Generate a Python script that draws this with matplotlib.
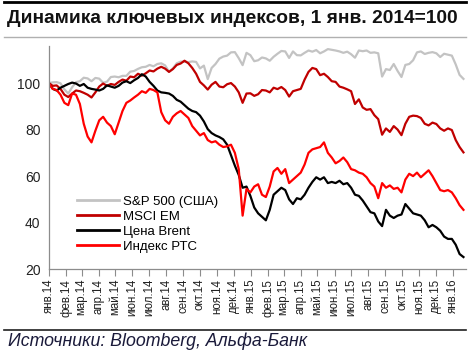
"""
Динамика ключевых индексов (S&P 500, MSCI EM, Brent, РТС), 1 янв. 2014 = 100.

Weekly closes, normalised to the first trading day of 2014.
"""

import matplotlib

matplotlib.use("Agg")
import matplotlib.pyplot as plt
import numpy as np
import pandas as pd
from matplotlib.lines import Line2D

plt.rcParams["font.family"] = ["Liberation Sans", "DejaVu Sans"]

TITLE = "Динамика ключевых индексов, 1 янв. 2014=100"
SOURCE = "Источники: Bloomberg, Альфа-Банк"

MONTHS = ["янв", "фев", "мар", "апр", "май", "июн",
          "июл", "авг", "сен", "окт", "ноя", "дек"]
TICK_LABELS = [f"{m}.14" for m in MONTHS] + [f"{m}.15" for m in MONTHS] + ["янв.16"]

SERIES_NAMES = ["S&P 500 (США)", "MSCI EM", "Цена Brent", "Индекс РТС"]
SERIES_COLORS = ["#c3c3c3", "#c00000", "#000000", "#ff0000"]

sp500 = [
    100.0, 100.3, 100.4, 99.9, 97.3, 95.5, 98.2, 100.4, 100.8, 102.3,
    102.0, 100.8, 102.2, 101.9, 100.1, 100.6, 102.6, 102.8, 102.5, 103.1,
    103.1, 104.9, 105.2, 106.1, 106.8, 107.0, 107.8, 107.2, 108.2, 108.5,
    107.6, 104.9, 106.3, 108.5, 109.2, 109.2, 109.0, 109.3, 109.1, 106.3,
    107.5, 101.7, 106.5, 108.2, 110.5, 111.4, 111.8, 113.2, 113.3, 110.7,
    107.7, 113.0, 112.0, 109.4, 109.8, 111.0, 110.6, 109.6, 111.3, 112.6,
    113.8, 113.6, 110.8, 113.6, 112.0, 111.9, 113.0, 114.0, 113.5, 114.2,
    112.8, 113.6, 114.6, 114.3, 114.0, 113.6, 113.0, 113.5, 112.4, 110.9,
    114.0, 113.7, 114.0, 113.0, 113.2, 112.8, 102.8, 106.0, 105.6, 108.2,
    105.2, 102.6, 107.8, 108.2, 109.8, 113.2, 113.6, 112.5, 113.0, 113.3,
    112.8, 111.2, 112.6, 112.2, 111.8, 108.0, 103.5, 101.8,
]

msci_em = [
    100.0, 98.8, 99.0, 97.5, 95.0, 94.0, 95.5, 96.8, 96.5, 95.8,
    95.0, 93.8, 96.0, 98.5, 99.8, 98.8, 99.6, 99.2, 100.5, 101.5,
    101.0, 102.8, 102.5, 104.0, 103.2, 104.2, 105.4, 105.0, 106.2, 107.0,
    106.2, 104.8, 106.0, 107.8, 108.4, 109.6, 108.5, 106.5, 104.0, 100.5,
    99.0, 97.2, 99.3, 100.5, 98.5, 98.2, 99.5, 100.0, 98.5, 96.0,
    91.5, 95.5, 95.6, 94.5, 95.2, 97.0, 96.8, 96.0, 98.0, 97.4,
    98.3, 97.0, 94.2, 96.5, 97.0, 97.5, 101.5, 104.8, 106.5, 106.0,
    103.4, 104.0, 102.6, 100.8, 100.5, 98.5, 98.0, 97.3, 96.5, 91.0,
    93.0, 89.5, 88.5, 88.8, 86.2, 84.5, 77.8, 80.5, 79.0, 81.5,
    80.0, 77.6, 82.5, 85.5, 86.0, 85.8, 85.0, 82.5, 81.8, 83.0,
    82.4, 80.5, 79.5, 80.5, 79.8, 75.5, 72.5, 70.2,
]

brent = [
    100.0, 97.5, 96.8, 98.0, 98.8, 99.6, 100.2, 99.8, 98.8, 99.6,
    98.0, 97.5, 97.2, 96.8, 97.5, 99.0, 98.5, 98.0, 98.8, 100.2,
    100.8, 100.0, 101.2, 102.2, 103.8, 102.8, 100.5, 98.8, 96.8, 96.0,
    95.8, 95.5, 94.5, 92.8, 92.0, 90.5, 89.0, 88.0, 87.5, 86.0,
    83.5, 80.2, 78.5, 77.5, 76.8, 75.8, 73.5, 69.0, 64.5, 60.5,
    55.0, 55.5, 51.5, 46.5, 44.0, 42.5, 41.0, 45.5, 52.0, 53.5,
    55.0, 54.0, 50.0, 48.0, 50.5, 50.0, 52.0, 55.0, 57.5, 59.5,
    58.5, 59.5, 57.0, 57.5, 57.0, 58.0, 56.5, 57.0, 55.0, 52.0,
    51.5, 49.5, 47.0, 44.5, 44.0, 40.5, 38.5, 45.5, 43.0, 42.0,
    43.0, 43.5, 48.0, 46.0, 44.0, 43.5, 43.0, 41.0, 38.0, 39.0,
    38.0, 36.5, 34.0, 33.0, 33.0, 30.5, 26.5, 25.2,
]

rts = [
    100.0, 97.5, 97.0, 95.0, 91.5, 90.5, 95.5, 95.0, 91.0, 82.5,
    77.0, 74.5, 79.5, 84.0, 85.5, 83.0, 81.5, 78.0, 83.0, 88.0,
    91.5, 92.5, 93.8, 95.0, 96.5, 95.8, 97.5, 97.0, 96.0, 87.5,
    84.0, 82.5, 85.5, 87.0, 88.0, 86.5, 85.0, 81.5, 79.5, 77.5,
    78.5, 75.5, 74.5, 75.0, 73.5, 72.5, 72.8, 73.5, 70.0, 63.0,
    43.0, 54.5, 53.0, 55.5, 56.5, 52.0, 51.0, 55.5, 62.0, 63.5,
    61.0, 63.0, 57.0, 58.5, 60.0, 61.5, 65.0, 70.0, 71.5, 72.0,
    72.5, 74.5, 70.0, 68.0, 65.5, 66.5, 68.0, 66.0, 63.0, 62.5,
    61.5, 61.0, 59.5, 57.0, 55.5, 50.5, 57.0, 55.0, 56.0, 54.5,
    55.0, 53.0, 58.5, 61.0, 60.0, 61.5, 59.5, 61.0, 62.5, 60.0,
    57.0, 54.0, 53.5, 54.0, 53.0, 50.5, 47.5, 45.5,
]

dates = pd.date_range("2014-01-01", periods=len(sp500), freq="7D")
month_starts = pd.date_range("2014-01-01", "2016-01-01", freq="MS")

fig = plt.figure(figsize=(4.7, 3.5), dpi=100)
ax = fig.add_axes([0.104, 0.231, 0.888, 0.638])

for values, name, color in zip([sp500, msci_em, brent, rts],
                               SERIES_NAMES, SERIES_COLORS):
    ax.plot(dates, values, color=color, linewidth=1.6, label=name)

ax.set_ylim(20, 116)
ax.set_yticks([20, 40, 60, 80, 100])
ax.set_xlim(pd.Timestamp("2014-01-01"), pd.Timestamp("2016-01-25"))
ax.set_xticks(month_starts)
ax.set_xticklabels(TICK_LABELS, rotation=90, fontsize=8.3, color="#222222")

for side in ("top", "right"):
    ax.spines[side].set_visible(False)
for side in ("left", "bottom"):
    ax.spines[side].set_color("#8c8c8c")
    ax.spines[side].set_linewidth(0.9)
ax.tick_params(axis="x", length=5, width=0.8, color="#8c8c8c", pad=2)
ax.tick_params(axis="y", length=0, labelsize=10, colors="#222222", pad=6)

handles = [Line2D([], [], color=c, linewidth=2.0) for c in SERIES_COLORS]
ax.legend(handles, SERIES_NAMES, loc="lower left",
          bbox_to_anchor=(0.055, 0.05), frameon=False, fontsize=9.5,
          handlelength=3.2, handletextpad=0.3, labelspacing=0.2,
          borderaxespad=0)

# header and footer rules
fig.add_artist(Line2D([0.008, 0.992], [0.994, 0.994], color="black", linewidth=2.0))
fig.add_artist(Line2D([0.008, 0.992], [0.894, 0.894], color="#b0b0b0", linewidth=1.0))
fig.add_artist(Line2D([0.008, 0.992], [0.057, 0.057], color="#202020", linewidth=1.2))

fig.text(0.014, 0.948, TITLE, fontsize=13.8, fontweight="bold",
         ha="left", va="center", color="#111111")
fig.text(0.016, 0.024, SOURCE, fontsize=12.8, style="italic",
         ha="left", va="center", color="#1a1a3a")

fig.savefig("out.png", dpi=100)
